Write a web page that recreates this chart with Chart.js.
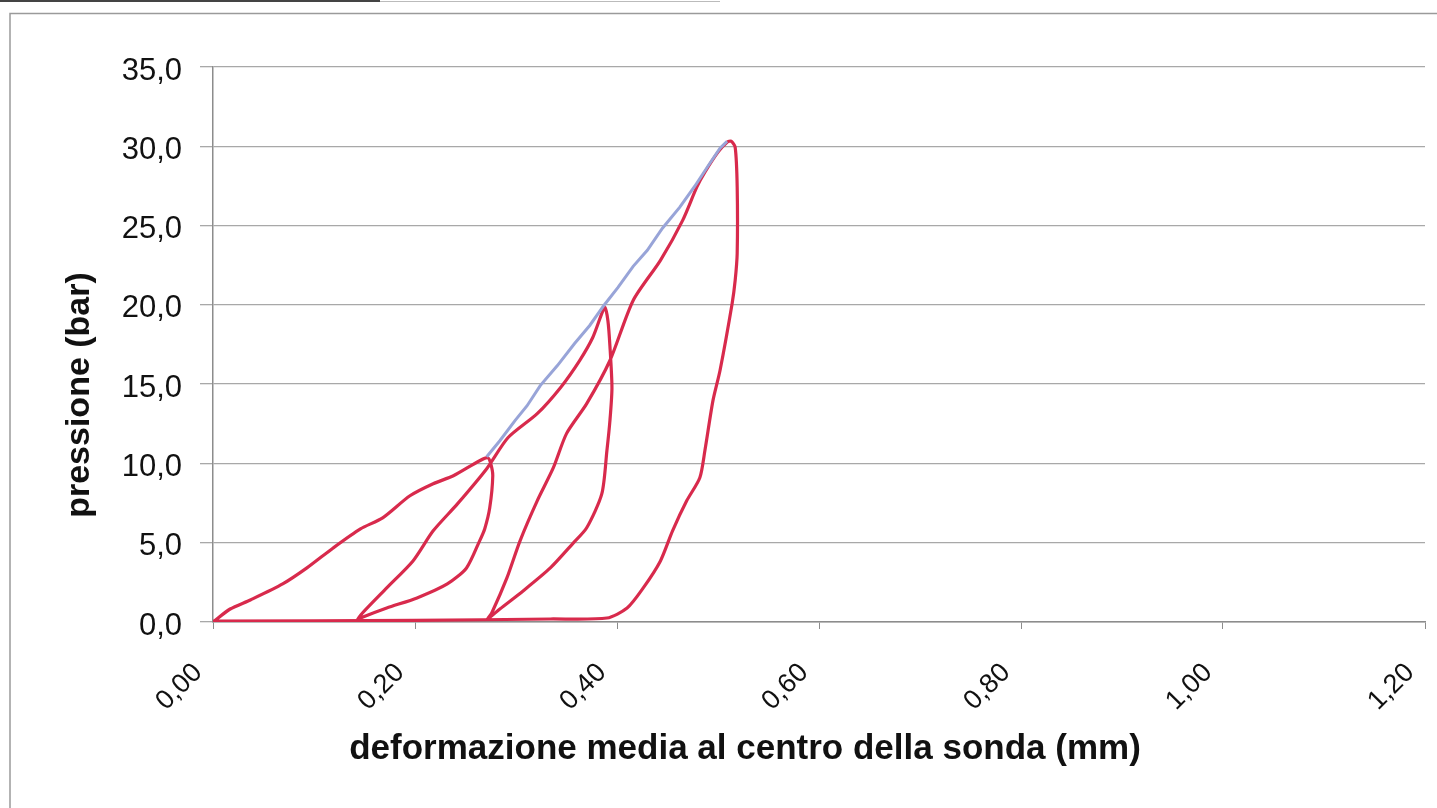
<!DOCTYPE html>
<html>
<head>
<meta charset="utf-8">
<script src="https://cdn.jsdelivr.net/npm/chart.js@4.4.1/dist/chart.umd.min.js"></script>
<style>
    html, body { margin: 0; padding: 0; background: #fff; }
    #wrap { width: 1437px; height: 808px; }
</style>
</head>
<body>
<div id="wrap"><canvas id="pressChart" width="1437" height="808"></canvas></div>
<script>
// load / unload cycles (red) - deformation in mm, pressure in bar
const redX = [
    0.000, 0.017, 0.037, 0.069, 0.093, 0.119, 0.146, 0.168, 0.195, 0.218, 0.238, 0.264, 0.272,
    0.275, 0.277, 0.274, 0.269, 0.264, 0.251, 0.232, 0.202, 0.172, 0.146, 0.143,
    0.148, 0.172, 0.198, 0.218, 0.242, 0.271, 0.292, 0.321, 0.344, 0.363, 0.376, 0.385, 0.388,
    0.391, 0.393, 0.395, 0.393, 0.390, 0.385, 0.370, 0.356, 0.334, 0.307, 0.284, 0.272,
    0.276, 0.291, 0.304, 0.321, 0.337, 0.350, 0.370, 0.393, 0.416, 0.443, 0.465, 0.479, 0.487, 0.500, 0.509, 0.513,
    0.517, 0.519, 0.519, 0.517, 0.514, 0.502, 0.495, 0.487, 0.482, 0.469, 0.455, 0.443, 0.426, 0.410, 0.390,
    0.334, 0.200, 0.000
];
const redY = [
    0.00, 0.82, 1.39, 2.40, 3.41, 4.67, 5.87, 6.57, 7.96, 8.72, 9.22, 10.17, 10.36,
    9.98, 9.22, 7.20, 5.87, 5.12, 3.41, 2.40, 1.52, 0.88, 0.25, 0.13,
    0.57, 2.15, 3.85, 5.75, 7.45, 9.67, 11.62, 13.14, 14.78, 16.49, 17.94, 19.46, 19.84,
    19.00, 17.40, 14.78, 12.70, 10.80, 8.09, 5.94, 4.93, 3.41, 1.96, 0.82, 0.19,
    0.57, 2.78, 5.12, 7.64, 9.73, 11.88, 13.77, 16.49, 20.28, 22.81, 25.33, 27.42, 28.36, 29.63, 30.26, 30.32,
    29.94, 27.42, 23.25, 21.54, 20.09, 15.86, 13.96, 10.80, 9.10, 7.64, 5.75, 3.85, 2.15, 0.88, 0.25,
    0.19, 0.10, 0.05
];

// loading envelope (blue)
const blueX = [0.271, 0.284, 0.299, 0.311, 0.324, 0.341, 0.358, 0.373, 0.387, 0.401, 0.416, 0.430, 0.445, 0.462, 0.477, 0.490, 0.502, 0.509];
const blueY = [10.42, 11.43, 12.70, 13.64, 14.91, 16.17, 17.56, 18.70, 19.96, 21.10, 22.43, 23.44, 24.83, 26.15, 27.48, 28.74, 29.88, 30.32];

const xTitle = 'deformazione media al centro della sonda (mm)';
const yTitle = 'pressione (bar)';

function toPoints(xs, ys) {
    return xs.map((x, i) => ({ x: x, y: ys[i] }));
}

// frame + axis titles, placed like the original sheet
const sheetDecor = {
    id: 'sheetDecor',
    beforeDraw(chart) {
        const ctx = chart.ctx;
        ctx.save();
        ctx.fillStyle = '#fff';
        ctx.fillRect(0, 0, chart.width, chart.height);
        ctx.strokeStyle = '#444';
        ctx.lineWidth = 2;
        ctx.beginPath();
        ctx.moveTo(0, 1); ctx.lineTo(380, 1);
        ctx.stroke();
        ctx.strokeStyle = '#bbb';
        ctx.lineWidth = 1;
        ctx.beginPath();
        ctx.moveTo(380, 1.5); ctx.lineTo(720, 1.5);
        ctx.stroke();
        ctx.strokeStyle = '#9a9a9a';
        ctx.lineWidth = 1.5;
        ctx.beginPath();
        ctx.moveTo(10, chart.height); ctx.lineTo(10, 13.5); ctx.lineTo(chart.width, 13.5);
        ctx.stroke();
        ctx.restore();
    },
    afterDraw(chart) {
        const ctx = chart.ctx;
        ctx.save();
        ctx.fillStyle = '#111';
        ctx.textAlign = 'center';
        ctx.textBaseline = 'middle';
        ctx.font = 'bold 35px "Liberation Sans", Arial, sans-serif';
        ctx.fillText(xTitle, 745, 749);
        ctx.font = 'bold 34px "Liberation Sans", Arial, sans-serif';
        ctx.translate(80, 395);
        ctx.rotate(-Math.PI / 2);
        ctx.fillText(yTitle, 0, 0);
        ctx.restore();
    }
};

const ctx = document.getElementById('pressChart').getContext('2d');
new Chart(ctx, {
    type: 'scatter',
    data: {
        datasets: [{
            label: 'inviluppo',
            data: toPoints(blueX, blueY),
            showLine: true,
            borderColor: '#98a4d8',
            borderWidth: 3,
            pointRadius: 0,
            tension: 0
        }, {
            label: 'cicli',
            data: toPoints(redX, redY),
            showLine: true,
            borderColor: '#d82a4c',
            borderWidth: 3.2,
            pointRadius: 0,
            tension: 0.25
        }]
    },
    options: {
        responsive: false,
        animation: false,
        layout: {
            padding: { left: 0, top: 67, right: 12, bottom: 0 }
        },
        plugins: {
            legend: { display: false },
            tooltip: { enabled: false }
        },
        scales: {
            x: {
                type: 'linear',
                min: 0,
                max: 1.2,
                afterFit: (scale) => {
                    scale.height = 186;
                    scale.paddingLeft = 0;
                    scale.paddingRight = 0;
                },
                border: { color: '#8c8c8c', width: 1.5 },
                grid: { drawOnChartArea: false, drawTicks: true, tickLength: 7, color: '#8c8c8c' },
                ticks: {
                    stepSize: 0.2,
                    autoSkip: false,
                    minRotation: 45,
                    maxRotation: 45,
                    padding: 28,
                    labelOffset: -15,
                    color: '#111',
                    font: { family: '"Liberation Sans", Arial, sans-serif', size: 27 },
                    callback: (v) => v.toFixed(2).replace('.', ',')
                }
            },
            y: {
                min: 0,
                max: 35,
                afterFit: (scale) => {
                    scale.width = 213;
                    scale.paddingTop = 0;
                    scale.paddingBottom = 0;
                },
                border: { color: '#8c8c8c', width: 1.5 },
                grid: { color: '#a8a8a8', lineWidth: 1.3, tickLength: 13 },
                ticks: {
                    stepSize: 5,
                    padding: 18,
                    labelOffset: 4,
                    color: '#111',
                    font: { family: '"Liberation Sans", Arial, sans-serif', size: 31 },
                    callback: (v) => v.toFixed(1).replace('.', ',')
                }
            }
        }
    },
    plugins: [sheetDecor]
});
</script>
</body>
</html>
